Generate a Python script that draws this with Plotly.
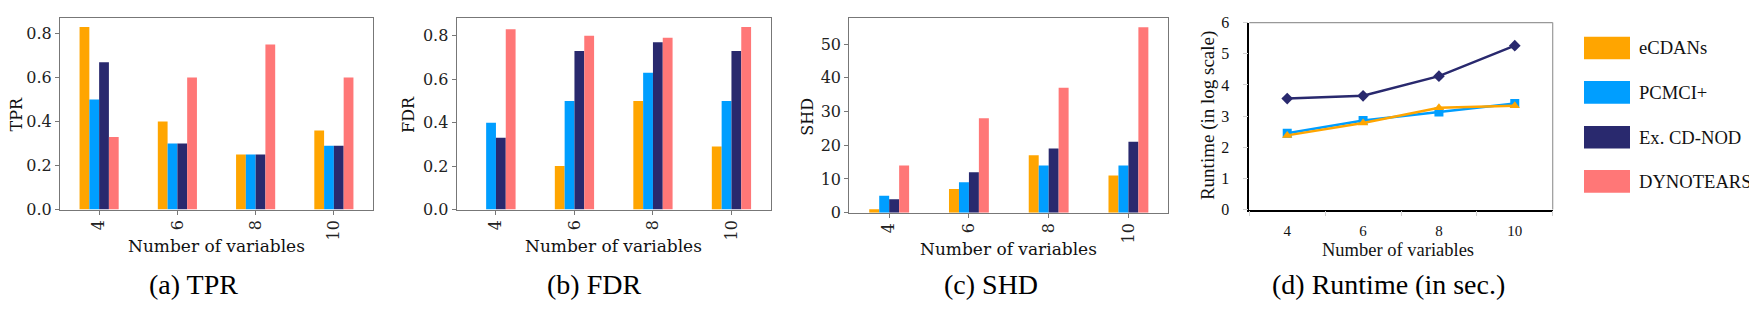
import plotly.graph_objects as go

# The page keeps the browser's default 8px body margin, so the figure is sized to fit the
# 1757x314 window exactly and all positions are given in window pixels minus that margin.
OFF = 8
W, H = 1757 - OFF, 314 - 2 * OFF

categories = ["4", "6", "8", "10"]
methods = ["eCDANs", "PCMCI+", "Ex. CD-NOD", "DYNOTEARS"]
colors = ["#FFA500", "#009EFF", "#29296E", "#FF7777"]

tpr_ecdans = [0.83, 0.40, 0.25, 0.36]
tpr_pcmci = [0.50, 0.30, 0.25, 0.29]
tpr_cdnod = [0.67, 0.30, 0.25, 0.29]
tpr_dyno = [0.33, 0.60, 0.75, 0.60]

fdr_ecdans = [0.00, 0.20, 0.50, 0.29]
fdr_pcmci = [0.40, 0.50, 0.63, 0.50]
fdr_cdnod = [0.33, 0.73, 0.77, 0.73]
fdr_dyno = [0.83, 0.80, 0.79, 0.84]

shd_ecdans = [1, 7, 17, 11]
shd_pcmci = [5, 9, 14, 14]
shd_cdnod = [4, 12, 19, 21]
shd_dyno = [14, 28, 37, 55]

rt_ecdans = [2.38, 2.78, 3.27, 3.33]
rt_pcmci = [2.45, 2.86, 3.13, 3.40]
rt_cdnod = [3.56, 3.65, 4.28, 5.26]

captions = ["(a) TPR", "(b) FDR", "(c) SHD", "(d) Runtime (in sec.)"]
ytitles = ["TPR", "FDR", "SHD", "Runtime (in log scale)"]
xtitle = "Number of variables"

def px(x):
    return (x - OFF) / W

def py(y):
    return 1 - (y - OFF) / H

# panel boxes in window pixels: left, right, top, bottom
boxes = [(60, 373, 10, 214), (456.7, 770.7, 10, 214), (849.3, 1168.3, 10, 217.3), (1249.3, 1552.7, 15, 214)]

fig = go.Figure()

bar_sets = [
    [tpr_ecdans, tpr_pcmci, tpr_cdnod, tpr_dyno],
    [fdr_ecdans, fdr_pcmci, fdr_cdnod, fdr_dyno],
    [shd_ecdans, shd_pcmci, shd_cdnod, shd_dyno],
]

SERIF_MPL = "DejaVu Serif, Noto Serif, Liberation Serif, serif"
TIMES = "Liberation Serif, Times New Roman, Times, serif"
spine = "#777777"

layout = dict(
    width=W, height=H, margin=dict(l=0, r=0, t=0, b=0),
    paper_bgcolor="white", plot_bgcolor="white",
    barmode="group", bargap=0.5, bargroupgap=0.0,
    showlegend=False,
    annotations=[], shapes=[],
)

for i, series in enumerate(bar_sets):
    k = i + 1
    xa = "x" if k == 1 else f"x{k}"
    ya = "y" if k == 1 else f"y{k}"
    for j, vals in enumerate(series):
        fig.add_trace(go.Bar(x=categories, y=vals, name=methods[j], marker=dict(color=colors[j], line=dict(width=0)),
                             xaxis=xa, yaxis=ya, offsetgroup=str(j)))
    l, r, t, b = boxes[i]
    ymax = max(max(v) for v in series) * 1.05
    layout[f"xaxis{k if k > 1 else ''}"] = dict(
        domain=[px(l), px(r)], anchor=ya, type="category", range=[-0.5, 3.5],
        showline=True, linecolor=spine, linewidth=1.2, mirror=True,
        ticks="outside", ticklen=4, tickcolor=spine, tickangle=-90, ticklabelstandoff=-1,
        tickfont=dict(family=SERIF_MPL, size=16, color="#222"), showgrid=False,
        fixedrange=True,
    )
    dtick = 10 if i == 2 else 0.2
    layout[f"yaxis{k if k > 1 else ''}"] = dict(
        domain=[py(b), py(t)], anchor=xa, range=[0, ymax], dtick=dtick,
        tickformat="d" if i == 2 else ".1f",
        showline=True, linecolor=spine, linewidth=1.2, mirror=True,
        ticks="outside", ticklen=4, tickcolor=spine,
        tickfont=dict(family=SERIF_MPL, size=16, color="#222"), showgrid=False, zeroline=False,
    )

# Runtime line chart
line_series = [(rt_cdnod, 2, "diamond"), (rt_pcmci, 1, "square"), (rt_ecdans, 0, "triangle-up")]
for vals, ci, sym in line_series:
    fig.add_trace(go.Scatter(x=categories, y=vals, mode="lines+markers", name=methods[ci],
                             line=dict(color=colors[ci], width=2.5),
                             marker=dict(symbol=sym, size=9, color=colors[ci]),
                             xaxis="x4", yaxis="y4"))
l, r, t, b = boxes[3]
layout["xaxis4"] = dict(
    domain=[px(l), px(r)], anchor="y4", type="category", range=[-0.5, 3.5],
    showline=True, linecolor="#000", linewidth=1.5,
    ticks="outside", tickson="boundaries", ticklen=5, tickcolor="#D0D0D0",
    ticklabelstandoff=7,
    tickfont=dict(family=TIMES, size=15, color="#111"), showgrid=False,
)
layout["yaxis4"] = dict(
    domain=[py(b), py(t)], anchor="x4", range=[0, 6], dtick=1,
    showline=True, linecolor="#000", linewidth=1.5,
    ticks="outside", ticklen=5, tickcolor="#D0D0D0", ticklabelstandoff=10,
    ticklabeloverflow="allow",
    tickfont=dict(family=TIMES, size=16, color="#111"), showgrid=False, zeroline=False,
)
layout["shapes"].append(dict(type="line", xref="x4 domain", yref="y4 domain", x0=0, x1=1, y0=1, y1=1,
                             line=dict(color="#999999", width=1.2)))
layout["shapes"].append(dict(type="line", xref="x4 domain", yref="y4 domain", x0=1, x1=1, y0=0, y1=1,
                             line=dict(color="#999999", width=1.2)))

# axis titles and captions
ytitle_x = [16, 408.3, 807.5, 1208]
ytitle_y = [112.7, 113, 115.8, 114.5]
xtitle_x = [216.7, 613.7, 1008.5, 1397.5]
xtitle_y = [253, 253, 256.5, 257]
caption_x = [193.3, 594, 990.8, 1388.3]
for i in range(4):
    fam = TIMES if i == 3 else SERIF_MPL
    layout["annotations"].append(dict(
        text=ytitles[i], x=px(ytitle_x[i]), y=py(ytitle_y[i]), xref="paper", yref="paper",
        xanchor="center", yanchor="middle", textangle=-90, showarrow=False,
        font=dict(family=fam, size=19 if i == 3 else 16, color="#111")))
    layout["annotations"].append(dict(
        text=xtitle, x=px(xtitle_x[i]), y=py(xtitle_y[i]), xref="paper", yref="paper",
        xanchor="center", yanchor="middle", showarrow=False,
        font=dict(family=fam, size=18.5 if i == 3 else 17, color="#111")))
    layout["annotations"].append(dict(
        text=captions[i], x=px(caption_x[i]), y=py(294), xref="paper", yref="paper",
        xanchor="center", yanchor="middle", showarrow=False,
        font=dict(family=TIMES, size=28, color="#000")))

# legend (boxes + labels)
leg_top = [30, 77.3, 125, 172]
for j, m in enumerate(methods):
    layout["shapes"].append(dict(type="rect", xref="paper", yref="paper",
                                 x0=px(1584), x1=px(1630), y0=py(leg_top[j] + 24), y1=py(leg_top[j]),
                                 fillcolor=colors[j], line=dict(width=0)))
    layout["annotations"].append(dict(
        text=m, x=px(1636.5), y=py(leg_top[j] + 12), xref="paper", yref="paper",
        xanchor="left", yanchor="middle", showarrow=False,
        font=dict(family=TIMES, size=18.6, color="#111")))

fig.update_layout(**layout)
fig.write_html("out.html", config={"displayModeBar": False})
